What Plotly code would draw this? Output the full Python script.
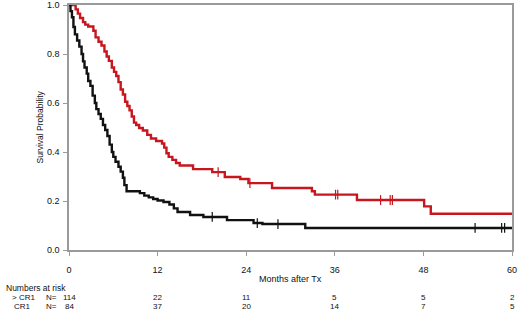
import numpy as np
import plotly.graph_objects as go

# ---------------- data ----------------
red_t = [0, 0.9, 1.2, 1.5, 1.9, 2.2, 2.6, 3.3, 3.6, 4.0, 4.4, 4.8, 5.1, 5.4, 5.8, 6.1, 6.4, 6.7,
         7.0, 7.3, 7.6, 7.9, 8.2, 8.5, 8.8, 9.1, 9.5, 10.0, 10.6, 11.1, 11.8, 12.6, 12.9, 13.2,
         13.5, 14.0, 14.5, 15.0, 16.8, 19.4, 21.1, 23.2, 24.3, 27.5, 32.9, 33.3, 39.0, 48.1, 49.0, 60]
red_s = [1.0, 0.982, 0.965, 0.947, 0.93, 0.92, 0.912, 0.895, 0.868, 0.85, 0.835, 0.81, 0.79, 0.772,
         0.745, 0.727, 0.71, 0.685, 0.655, 0.635, 0.605, 0.588, 0.57, 0.545, 0.52, 0.51, 0.498,
         0.488, 0.47, 0.455, 0.445, 0.435, 0.418, 0.395, 0.38, 0.368, 0.355, 0.345, 0.33, 0.318,
         0.298, 0.29, 0.273, 0.253, 0.24, 0.226, 0.204, 0.178, 0.148, 0.148]
red_cens = [20.2, 24.5, 36.1, 36.4, 42.2, 43.5, 43.8]

black_t = [0, 0.2, 0.4, 0.6, 0.8, 1.1, 1.4, 1.7, 1.9, 2.1, 2.4, 2.6, 2.9, 3.2, 3.5, 3.7, 4.0, 4.3,
           4.6, 4.9, 5.2, 5.5, 5.8, 6.0, 6.3, 6.7, 7.0, 7.3, 7.5, 7.8, 9.6, 10.2, 10.8, 11.4, 12.0,
           12.8, 13.6, 14.2, 14.7, 16.4, 18.2, 21.4, 25.0, 26.2, 32.0, 60]
black_s = [1.0, 0.975, 0.95, 0.91, 0.88, 0.855, 0.83, 0.8, 0.77, 0.745, 0.72, 0.69, 0.67, 0.63,
           0.6, 0.575, 0.555, 0.535, 0.51, 0.49, 0.465, 0.43, 0.40, 0.38, 0.36, 0.34, 0.32, 0.295,
           0.265, 0.24, 0.232, 0.222, 0.215, 0.208, 0.202, 0.196, 0.186, 0.17, 0.155, 0.143, 0.135,
           0.122, 0.11, 0.106, 0.09, 0.09]
black_cens = [19.4, 25.5, 28.3, 55.0, 58.6, 59.0]

x_ticks = [0, 12, 24, 36, 48, 60]
y_ticks = [0.0, 0.2, 0.4, 0.6, 0.8, 1.0]
risk_groups = ["> CR1", "CR1"]
risk_gt_cr1 = [114, 22, 11, 5, 5, 2]
risk_cr1 = [84, 37, 20, 14, 7, 5]

RED = "#c8161e"
BLACK = "#111111"
FONT = "Liberation Sans, Arial, sans-serif"
TXT = "#111"


def step_value(ts, ss, t):
    i = np.searchsorted(np.array(ts), t, side="right") - 1
    return ss[max(i, 0)]


fig = go.Figure()
for ts, ss, cens, col in [(red_t, red_s, red_cens, RED), (black_t, black_s, black_cens, BLACK)]:
    fig.add_trace(go.Scatter(x=ts, y=ss, mode="lines", line=dict(color=col, width=2.4, shape="hv"),
                             showlegend=False, hoverinfo="skip"))
    fig.add_trace(go.Scatter(x=cens, y=[step_value(ts, ss, c) for c in cens], mode="markers",
                             marker=dict(symbol="line-ns", size=7, line=dict(color=col, width=1.2)),
                             showlegend=False, hoverinfo="skip"))

axis_common = dict(showline=True, linecolor="#9a9a9a", linewidth=1.5, mirror=True,
                   showgrid=False, zeroline=False, ticks="outside", ticklen=4,
                   tickcolor="#9a9a9a", tickwidth=1.2, automargin=False,
                   tickfont=dict(family=FONT, size=9, color=TXT))

fig.update_xaxes(range=[0, 60], tickvals=x_ticks, ticktext=[str(v) for v in x_ticks],
                 ticklabelstandoff=6, **axis_common)
fig.update_yaxes(range=[0, 1.0], tickvals=y_ticks, ticktext=[f"{v:.1f}" for v in y_ticks],
                 ticklabelstandoff=2, **axis_common)

ann = []
ann.append(dict(x=30, y=-0.118, xref="x", yref="paper", text="Months after Tx", showarrow=False,
                font=dict(family=FONT, size=9, color=TXT), xanchor="center", yanchor="middle"))
ann.append(dict(x=39, y=0.5, xref="pix", yref="paper", text="Survival Probability",
                textangle=-90, showarrow=False, font=dict(family=FONT, size=8.5, color=TXT),
                xanchor="center", yanchor="middle"))
ann.append(dict(x=4, y=-0.155, xref="pix", yref="paper", text="Numbers at risk",
                showarrow=False, font=dict(family=FONT, size=8.5, color=TXT),
                xanchor="left", yanchor="middle"))
for row, (label, vals) in enumerate(zip(risk_groups, [risk_gt_cr1, risk_cr1])):
    yy = -0.192 - row * 0.0367
    ann.append(dict(x=10 if row == 0 else 12, y=yy, xref="pix", yref="paper", text=label,
                    showarrow=False, font=dict(family=FONT, size=8, color=TXT),
                    xanchor="left", yanchor="middle"))
    ann.append(dict(x=44, y=yy, xref="pix", yref="paper", text="N=", showarrow=False,
                    font=dict(family=FONT, size=8, color=TXT), xanchor="left", yanchor="middle"))
    for xv, v in zip(x_ticks, vals):
        ann.append(dict(x=xv, y=yy, xref="x", yref="paper", text=str(v), showarrow=False,
                        font=dict(family=FONT, size=8, color=TXT), xanchor="center",
                        yanchor="middle"))

# convert pixel-based x positions for row labels to paper coords
plot_left, plot_right = 69, 512
for a in ann:
    if a["xref"] == "pix":
        a["xref"] = "paper"
        a["x"] = (a["x"] - plot_left) / (plot_right - plot_left)

fig.update_layout(width=520, height=315, margin=dict(l=69, r=8, t=5, b=65),
                  paper_bgcolor="white", plot_bgcolor="white", annotations=ann)

fig.write_html("out.html", config={"displayModeBar": False},
               post_script="document.body.style.margin='0';")
